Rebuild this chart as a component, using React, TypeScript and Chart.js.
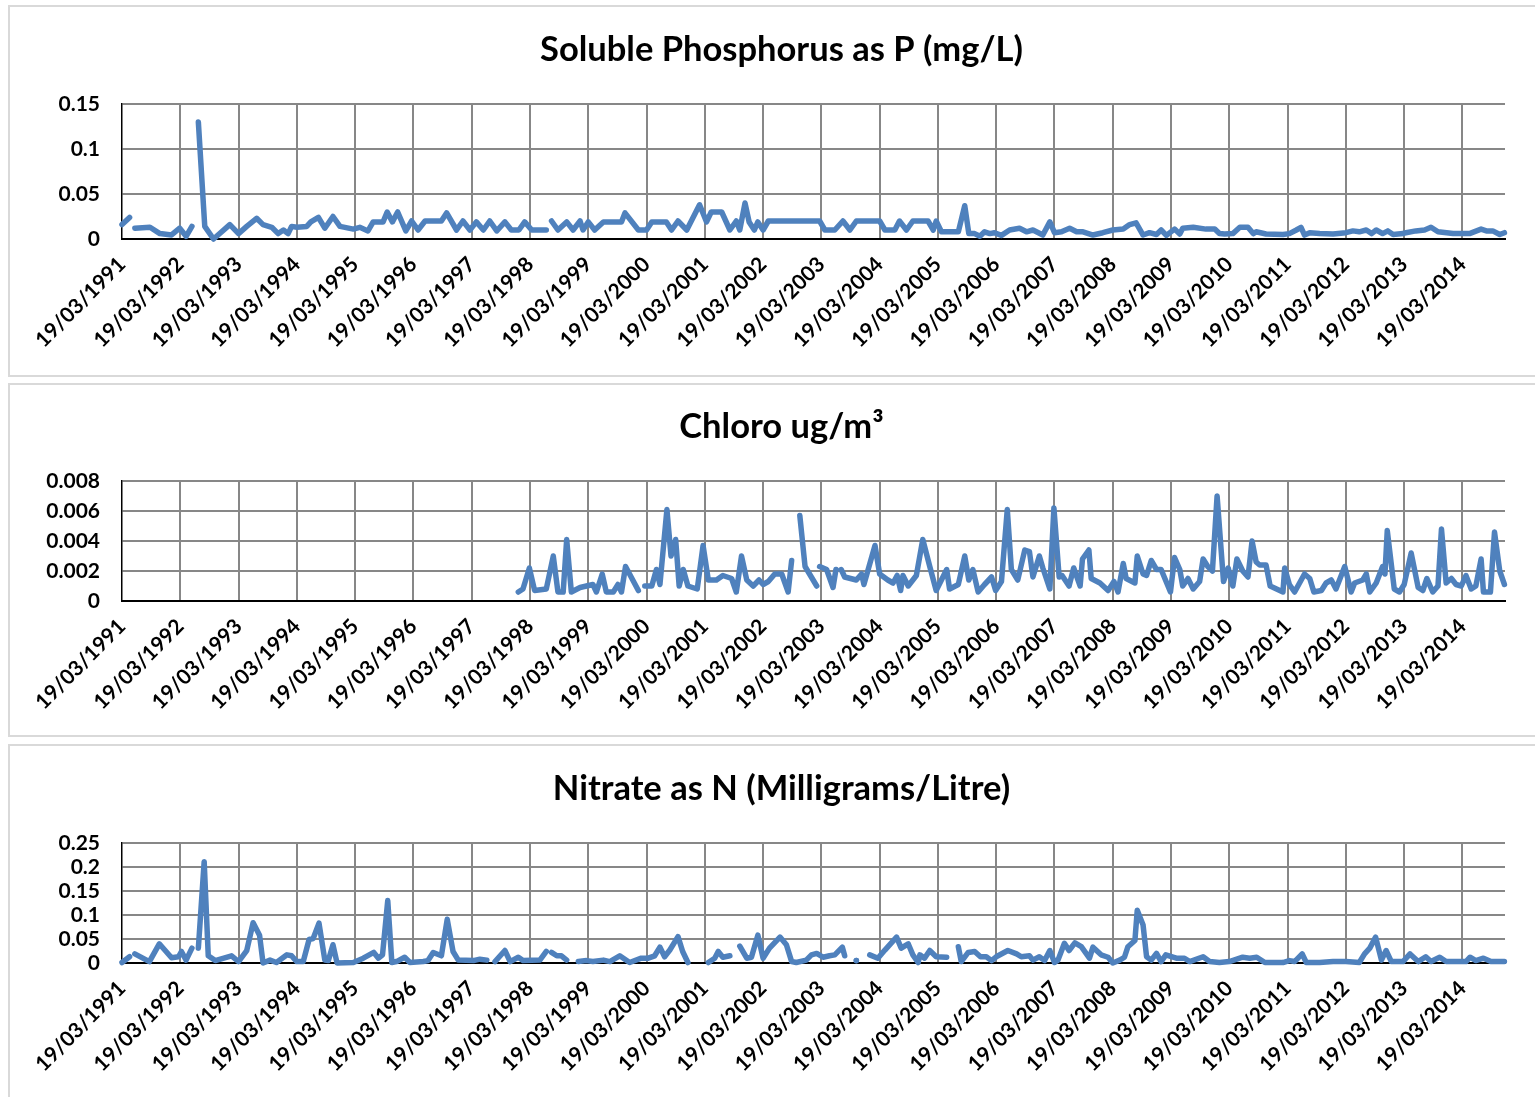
import React, { useEffect, useRef } from "react";
import { Chart, registerables } from "chart.js";

Chart.register(...registerables);

const FONT = "Lato";

// x values are years elapsed since 19/03/1991
const yearTicks = [0, 1, 2, 3, 4, 5, 6, 7, 8, 9, 10, 11, 12, 13, 14, 15, 16, 17, 18, 19, 20, 21, 22, 23];
const yearLabels = [
  "19/03/1991", "19/03/1992", "19/03/1993", "19/03/1994", "19/03/1995", "19/03/1996",
  "19/03/1997", "19/03/1998", "19/03/1999", "19/03/2000", "19/03/2001", "19/03/2002",
  "19/03/2003", "19/03/2004", "19/03/2005", "19/03/2006", "19/03/2007", "19/03/2008",
  "19/03/2009", "19/03/2010", "19/03/2011", "19/03/2012", "19/03/2013", "19/03/2014",
];
const xMax = 23.73;

const phosYTicks = [0, 0.05, 0.1, 0.15];
const chloroYTicks = [0, 0.002, 0.004, 0.006, 0.008];
const nitrateYTicks = [0, 0.05, 0.1, 0.15, 0.2, 0.25];

// Soluble Phosphorus as P (mg/L)
const phosT = [
  0, 0.13, 0.18, 0.22, 0.48, 0.65, 0.85, 0.99, 1.1, 1.2, 1.26, 1.31, 1.42, 1.57, 1.85, 2.0, 2.14, 2.31, 2.42, 2.57,
  2.68, 2.77, 2.85, 2.91, 3.0, 3.17, 3.24, 3.37, 3.48, 3.62, 3.74, 3.97, 4.08, 4.22, 4.31, 4.48, 4.55, 4.64, 4.73, 4.87,
  4.97, 5.08, 5.2, 5.48, 5.57, 5.74, 5.85, 5.97, 6.08, 6.2, 6.31, 6.43, 6.57, 6.68, 6.81, 6.91, 7.03, 7.28, 7.32, 7.37,
  7.48, 7.63, 7.74, 7.86, 7.91, 8.0, 8.11, 8.26, 8.57, 8.63, 8.86, 9.0, 9.09, 9.34, 9.43, 9.54, 9.69, 9.91, 10.03, 10.11,
  10.29, 10.43, 10.54, 10.6, 10.69, 10.76, 10.85, 10.91, 11.0, 11.09, 11.97, 12.06, 12.23, 12.37, 12.49, 12.6, 13.0, 13.09, 13.26, 13.34,
  13.46, 13.57, 13.83, 13.92, 13.97, 14.06, 14.35, 14.46, 14.53, 14.63, 14.72, 14.8, 14.89, 14.97, 15.09, 15.23, 15.4, 15.52, 15.63, 15.8,
  15.92, 16.0, 16.12, 16.26, 16.38, 16.49, 16.66, 16.83, 17.0, 17.18, 17.29, 17.4, 17.52, 17.63, 17.75, 17.83, 17.92, 18.06, 18.15, 18.2,
  18.38, 18.6, 18.75, 18.83, 18.92, 19.06, 19.18, 19.32, 19.41, 19.46, 19.63, 19.92, 20.03, 20.15, 20.23, 20.29, 20.38, 20.55, 20.78, 21.0,
  21.12, 21.23, 21.35, 21.44, 21.52, 21.63, 21.72, 21.81, 21.98, 22.03, 22.2, 22.35, 22.46, 22.58, 22.84, 23.12, 23.32, 23.41, 23.52, 23.64,
  23.72,
];
const phosV = [
  0.016, 0.024, null, 0.012, 0.013, 0.006, 0.0045, 0.012, 0.003, 0.014, null, 0.13, 0.014, 0, 0.016, 0.006, 0.014, 0.023, 0.016, 0.013,
  0.006, 0.01, 0.006, 0.014, 0.013, 0.014, 0.019, 0.024, 0.012, 0.025, 0.014, 0.011, 0.013, 0.009, 0.019, 0.019, 0.03, 0.019, 0.03, 0.009,
  0.02, 0.01, 0.02, 0.02, 0.029, 0.01, 0.02, 0.01, 0.019, 0.01, 0.02, 0.009, 0.019, 0.01, 0.01, 0.019, 0.01, 0.01, null, 0.02,
  0.01, 0.019, 0.01, 0.02, 0.01, 0.019, 0.01, 0.019, 0.019, 0.029, 0.01, 0.01, 0.019, 0.019, 0.01, 0.02, 0.01, 0.038, 0.019, 0.03,
  0.03, 0.01, 0.02, 0.01, 0.04, 0.019, 0.01, 0.019, 0.01, 0.02, 0.02, 0.01, 0.01, 0.02, 0.01, 0.02, 0.02, 0.01, 0.01, 0.02,
  0.01, 0.02, 0.02, 0.01, 0.02, 0.008, 0.008, 0.037, 0.006, 0.006, 0.003, 0.008, 0.006, 0.007, 0.004, 0.01, 0.012, 0.008, 0.01, 0.0044,
  0.019, 0.007, 0.008, 0.012, 0.008, 0.008, 0.0044, 0.007, 0.01, 0.011, 0.016, 0.018, 0.0044, 0.007, 0.005, 0.01, 0.004, 0.011, 0.0056, 0.012,
  0.013, 0.011, 0.011, 0.006, 0.0056, 0.006, 0.013, 0.013, 0.006, 0.008, 0.0056, 0.005, 0.006, 0.01, 0.013, 0.0044, 0.007, 0.006, 0.0056, 0.007,
  0.009, 0.008, 0.01, 0.006, 0.01, 0.006, 0.009, 0.005, 0.006, 0.007, 0.009, 0.01, 0.013, 0.008, 0.006, 0.006, 0.011, 0.009, 0.009, 0.005,
  0.007,
];

// Chloro ug/m³
const chloroT = [
  6.8, 6.88, 6.99, 7.08, 7.28, 7.4, 7.48, 7.57, 7.63, 7.71, 7.86, 7.97, 8.08, 8.14, 8.24, 8.31, 8.43, 8.51, 8.57, 8.64,
  8.86, 8.92, 8.97, 9.09, 9.17, 9.23, 9.35, 9.42, 9.5, 9.56, 9.63, 9.71, 9.87, 9.97, 10.06, 10.2, 10.31, 10.46, 10.54, 10.63,
  10.72, 10.83, 10.93, 11.0, 11.09, 11.2, 11.32, 11.43, 11.49, 11.56, 11.63, 11.72, 11.92, 11.945, 11.97, 12.09, 12.2, 12.25, 12.3, 12.34,
  12.4, 12.6, 12.69, 12.73, 12.92, 13.0, 13.14, 13.23, 13.3, 13.36, 13.4, 13.49, 13.63, 13.74, 13.86, 13.97, 14.15, 14.2, 14.35, 14.46,
  14.53, 14.6, 14.69, 14.8, 14.92, 14.99, 15.09, 15.19, 15.26, 15.37, 15.49, 15.57, 15.63, 15.74, 15.8, 15.92, 15.99, 16.08, 16.13, 16.25,
  16.33, 16.44, 16.48, 16.59, 16.63, 16.78, 16.92, 17.02, 17.09, 17.18, 17.23, 17.38, 17.42, 17.52, 17.58, 17.66, 17.75, 17.83, 17.99, 18.06,
  18.15, 18.2, 18.29, 18.38, 18.49, 18.55, 18.63, 18.71, 18.79, 18.9, 18.98, 19.06, 19.13, 19.23, 19.32, 19.39, 19.46, 19.52, 19.63, 19.7,
  19.81, 19.92, 19.95, 20.03, 20.12, 20.29, 20.38, 20.45, 20.58, 20.66, 20.75, 20.83, 20.98, 21.09, 21.15, 21.29, 21.35, 21.41, 21.52, 21.63,
  21.67, 21.71, 21.83, 21.92, 22.0, 22.12, 22.24, 22.32, 22.39, 22.49, 22.58, 22.64, 22.72, 22.81, 22.89, 22.98, 23.06, 23.15, 23.23, 23.32,
  23.36, 23.48, 23.55, 23.64, 23.72,
];
const chloroV = [
  0.0006, 0.0008, 0.0022, 0.0007, 0.0008, 0.003, 0.0006, 0.0006, 0.0041, 0.0006, 0.0009, 0.001, 0.0011, 0.0006, 0.0018, 0.0006, 0.0006, 0.0011, 0.0006, 0.0023,
  0.0007, null, 0.001, 0.001, 0.0021, 0.0011, 0.0061, 0.003, 0.0041, 0.001, 0.0021, 0.001, 0.0008, 0.0037, 0.0014, 0.0014, 0.0017, 0.0015, 0.0006, 0.003,
  0.0014, 0.001, 0.0014, 0.0011, 0.0013, 0.0018, 0.0018, 0.0006, 0.0027, null, 0.0057, 0.0023, 0.001, null, 0.0023, 0.0021, 0.0009, 0.0021, null, 0.0021,
  0.0016, 0.0014, 0.0018, 0.0011, 0.0037, 0.0018, 0.0014, 0.0012, 0.0017, 0.0007, 0.0017, 0.001, 0.0017, 0.0041, 0.0023, 0.0007, 0.0021, 0.0008, 0.0011, 0.003,
  0.0014, 0.0021, 0.0006, 0.0011, 0.0016, 0.0007, 0.0013, 0.0061, 0.0021, 0.0014, 0.0034, 0.0033, 0.0016, 0.003, 0.0022, 0.0008, 0.0062, 0.0016, 0.0017, 0.001,
  0.0022, 0.001, 0.0028, 0.0034, 0.0015, 0.0012, 0.0007, 0.0013, 0.0006, 0.0025, 0.0015, 0.0012, 0.003, 0.0018, 0.0017, 0.0027, 0.0021, 0.0021, 0.0006, 0.0029,
  0.0021, 0.001, 0.0015, 0.0008, 0.0013, 0.0028, 0.0023, 0.002, 0.007, 0.0013, 0.0022, 0.001, 0.0028, 0.002, 0.0016, 0.004, 0.0026, 0.0024, 0.0024, 0.001,
  0.0008, 0.0006, 0.0022, 0.0011, 0.0006, 0.0018, 0.0015, 0.0006, 0.0007, 0.0012, 0.0014, 0.0008, 0.0023, 0.0006, 0.0012, 0.0014, 0.0018, 0.0006, 0.0012, 0.0023,
  0.0018, 0.0047, 0.0008, 0.0006, 0.0011, 0.0032, 0.0009, 0.0007, 0.0015, 0.0006, 0.001, 0.0048, 0.0012, 0.0015, 0.0011, 0.001, 0.0017, 0.0008, 0.001, 0.0028,
  0.0006, 0.0006, 0.0046, 0.002, 0.0011,
];

// Nitrate as N (Milligrams/Litre)
const nitrateT = [
  0, 0.13, 0.18, 0.22, 0.47, 0.64, 0.85, 0.97, 1.02, 1.1, 1.2, 1.26, 1.31, 1.41, 1.48, 1.6, 1.88, 2.0, 2.14, 2.25,
  2.36, 2.42, 2.54, 2.65, 2.83, 2.91, 3.0, 3.11, 3.21, 3.28, 3.38, 3.48, 3.54, 3.62, 3.69, 3.97, 4.14, 4.32, 4.4, 4.47,
  4.56, 4.63, 4.71, 4.85, 4.94, 5.17, 5.25, 5.34, 5.48, 5.58, 5.68, 5.77, 6.03, 6.14, 6.26, 6.33, 6.4, 6.57, 6.66, 6.8,
  6.88, 7.17, 7.28, 7.32, 7.37, 7.46, 7.54, 7.63, 7.73, 7.83, 7.97, 8.08, 8.26, 8.37, 8.54, 8.71, 8.91, 9.03, 9.14, 9.23,
  9.31, 9.4, 9.54, 9.62, 9.71, 9.88, 10.06, 10.17, 10.23, 10.31, 10.43, 10.52, 10.6, 10.72, 10.8, 10.91, 11.0, 11.11, 11.29, 11.4,
  11.49, 11.57, 11.74, 11.83, 11.92, 12.03, 12.14, 12.23, 12.36, 12.4, 12.5, 12.6, 12.72, 12.83, 12.97, 13.09, 13.29, 13.37, 13.49, 13.57,
  13.66, 13.69, 13.77, 13.86, 13.97, 14.15, 14.25, 14.35, 14.4, 14.52, 14.63, 14.73, 14.83, 14.92, 15.0, 15.2, 15.35, 15.43, 15.57, 15.63,
  15.74, 15.83, 15.92, 16.0, 16.06, 16.17, 16.25, 16.35, 16.46, 16.6, 16.66, 16.8, 16.92, 17.0, 17.12, 17.2, 17.26, 17.38, 17.42, 17.52,
  17.58, 17.66, 17.75, 17.83, 17.91, 18.09, 18.23, 18.32, 18.55, 18.66, 18.83, 19.0, 19.23, 19.35, 19.47, 19.61, 19.92, 20.03, 20.12, 20.25,
  20.32, 20.55, 20.78, 21.0, 21.23, 21.32, 21.41, 21.51, 21.61, 21.69, 21.78, 21.98, 22.1, 22.24, 22.37, 22.46, 22.61, 22.72, 23.06, 23.13,
  23.23, 23.36, 23.49, 23.72,
];
const nitrateV = [
  0.001, 0.013, null, 0.019, 0.003, 0.04, 0.011, 0.013, 0.024, 0.006, 0.031, null, 0.031, 0.211, 0.015, 0.005, 0.015, 0.003, 0.026, 0.084,
  0.058, 0, 0.006, 0.001, 0.017, 0.015, 0.003, 0.003, 0.049, 0.051, 0.083, 0.006, 0.005, 0.038, 0, 0.001, 0.01, 0.022, 0.01, 0.017,
  0.13, 0.001, 0.003, 0.012, 0.001, 0.003, 0.005, 0.022, 0.015, 0.091, 0.024, 0.006, 0.005, 0.008, 0.006, null, 0.003, 0.026, 0.003, 0.012,
  0.005, 0.006, 0.024, null, 0.022, 0.015, 0.015, 0.006, null, 0.003, 0.005, 0.003, 0.006, 0.003, 0.015, 0.001, 0.01, 0.01, 0.015, 0.033,
  0.013, 0.027, 0.055, 0.024, 0.001, null, 0.001, 0.01, 0.024, 0.012, 0.015, null, 0.035, 0.01, 0.012, 0.058, 0.01, 0.031, 0.054, 0.038,
  0.003, 0.001, 0.006, 0.017, 0.02, 0.012, 0.015, 0.017, 0.033, 0.015, null, 0.005, null, 0.017, 0.01, 0.027, 0.054, 0.031, 0.04, 0.017,
  0.001, 0.017, 0.01, 0.026, 0.013, 0.012, null, 0.034, 0.003, 0.022, 0.024, 0.013, 0.013, 0.005, 0.013, 0.026, 0.019, 0.013, 0.015, 0.006,
  0.013, 0.005, 0.026, 0.001, 0.006, 0.041, 0.026, 0.042, 0.034, 0.01, 0.033, 0.017, 0.012, 0, 0.006, 0.012, 0.034, 0.047, 0.11, 0.079,
  0.013, 0.006, 0.02, 0.003, 0.017, 0.01, 0.01, 0.003, 0.013, 0.003, 0.001, 0.003, 0.012, 0.01, 0.012, 0.001, 0.001, 0.005, 0.003, 0.019,
  0.001, 0.001, 0.003, 0.003, 0.001, 0.019, 0.031, 0.054, 0.006, 0.026, 0.003, 0.003, 0.019, 0.003, 0.013, 0.003, 0.012, 0.003, 0.003, 0.012,
  0.005, 0.01, 0.003, 0.003,
];

type PanelProps = {
  title: string;
  xs: number[];
  ys: (number | null)[];
  yTicks: number[];
  top: number;
  height: number;
  titleTop: number;
  titleBottom: number;
  xAxisHeight: number;
};

const LINE_COLOR = "#4f81bd";
const GRID_COLOR = "#878787";
const TITLE_SIZE = 34.5;

function Panel({ title, xs, ys, yTicks, top, height, titleTop, titleBottom, xAxisHeight }: PanelProps) {
  const ref = useRef<HTMLCanvasElement | null>(null);

  useEffect(() => {
    if (!ref.current) return;
    const points = xs.map((x, i) => ({ x, y: ys[i] }));
    const chart = new Chart(ref.current, {
      type: "line",
      data: {
        datasets: [
          {
            data: points as any,
            borderColor: LINE_COLOR,
            backgroundColor: LINE_COLOR,
            borderWidth: 5.5,
            borderJoinStyle: "round",
            borderCapStyle: "round",
            tension: 0,
            spanGaps: false,
            clip: false as any,
            pointRadius: (ctx: any) => {
              const i = ctx.dataIndex;
              const isolated =
                ys[i] !== null && (i === 0 || ys[i - 1] === null) && (i === ys.length - 1 || ys[i + 1] === null);
              return isolated ? 2.8 : 0;
            },
            pointBorderWidth: 0,
            pointHoverRadius: 0,
          },
        ],
      },
      options: {
        animation: false,
        responsive: false,
        maintainAspectRatio: false,
        events: [],
        layout: { padding: { left: 0, right: 0, top: 0, bottom: 0 } },
        plugins: {
          legend: { display: false },
          tooltip: { enabled: false },
          title: {
            display: true,
            text: title,
            color: "#000",
            font: { family: FONT, size: TITLE_SIZE, weight: "bold", lineHeight: 1.2 },
            padding: { top: titleTop, bottom: titleBottom },
          },
        },
        scales: {
          x: {
            type: "linear",
            min: 0,
            max: xMax,
            afterBuildTicks: (axis: any) => {
              axis.ticks = yearTicks.map((value) => ({ value }));
            },
            afterFit: (axis: any) => {
              axis.height = xAxisHeight;
            },
            ticks: {
              autoSkip: false,
              minRotation: 45,
              maxRotation: 45,
              padding: 13,
              color: "#000",
              font: { family: FONT, size: 21, weight: "bold" },
              callback: (_v: any, idx: number) => yearLabels[idx],
            },
            grid: {
              color: (ctx: any) => (ctx.tick && ctx.tick.value === 0 ? "rgba(0,0,0,0)" : GRID_COLOR),
              lineWidth: 2,
              drawTicks: false,
            },
            border: { color: "#000", width: 2 },
          },
          y: {
            type: "linear",
            min: 0,
            max: yTicks[yTicks.length - 1],
            afterBuildTicks: (axis: any) => {
              axis.ticks = yTicks.map((value) => ({ value }));
            },
            afterFit: (axis: any) => {
              axis.width = 112;
            },
            ticks: {
              autoSkip: false,
              padding: 22,
              color: "#000",
              font: { family: FONT, size: 21, weight: "bold" },
              callback: (v: any) => String(v),
            },
            grid: {
              color: (ctx: any) => (ctx.tick && ctx.tick.value === 0 ? "rgba(0,0,0,0)" : GRID_COLOR),
              lineWidth: 2,
              drawTicks: false,
            },
            border: { color: "#000", width: 1.5 },
          },
          yRight: {
            type: "linear",
            position: "right",
            display: true,
            afterFit: (axis: any) => {
              axis.width = 48;
            },
            ticks: { display: false },
            grid: { display: false, drawOnChartArea: false, drawTicks: false },
            border: { display: false },
          },
        },
      } as any,
    });
    return () => chart.destroy();
  }, []);

  return (
    <div
      style={{
        position: "absolute",
        left: 8,
        top,
        width: 1543,
        height: height - 4,
        border: "2px solid #d9d9d9",
        background: "#fff",
      }}
    >
      <canvas ref={ref} width={1543} height={height - 4} style={{ display: "block", width: 1543, height: height - 4 }} />
    </div>
  );
}

const half = (TITLE_SIZE * 1.2) / 2;

export default function App() {
  return (
    <div
      style={{
        position: "fixed",
        left: 0,
        top: 0,
        width: "100vw",
        height: "100vh",
        overflow: "hidden",
        background: "#fff",
      }}
    >
      <Panel
        title="Soluble Phosphorus as P (mg/L)"
        xs={phosT}
        ys={phosV}
        yTicks={phosYTicks}
        top={5}
        height={372}
        titleTop={43 - half}
        titleBottom={97 - (43 - half) - 2 * half}
        xAxisHeight={136}
      />
      <Panel
        title="Chloro ug/m³"
        xs={chloroT}
        ys={chloroV}
        yTicks={chloroYTicks}
        top={383}
        height={354}
        titleTop={42 - half}
        titleBottom={96 - (42 - half) - 2 * half}
        xAxisHeight={134}
      />
      <Panel
        title="Nitrate as N (Milligrams/Litre)"
        xs={nitrateT}
        ys={nitrateV}
        yTicks={nitrateYTicks}
        top={744}
        height={372}
        titleTop={43 - half}
        titleBottom={97 - (43 - half) - 2 * half}
        xAxisHeight={151}
      />
    </div>
  );
}
